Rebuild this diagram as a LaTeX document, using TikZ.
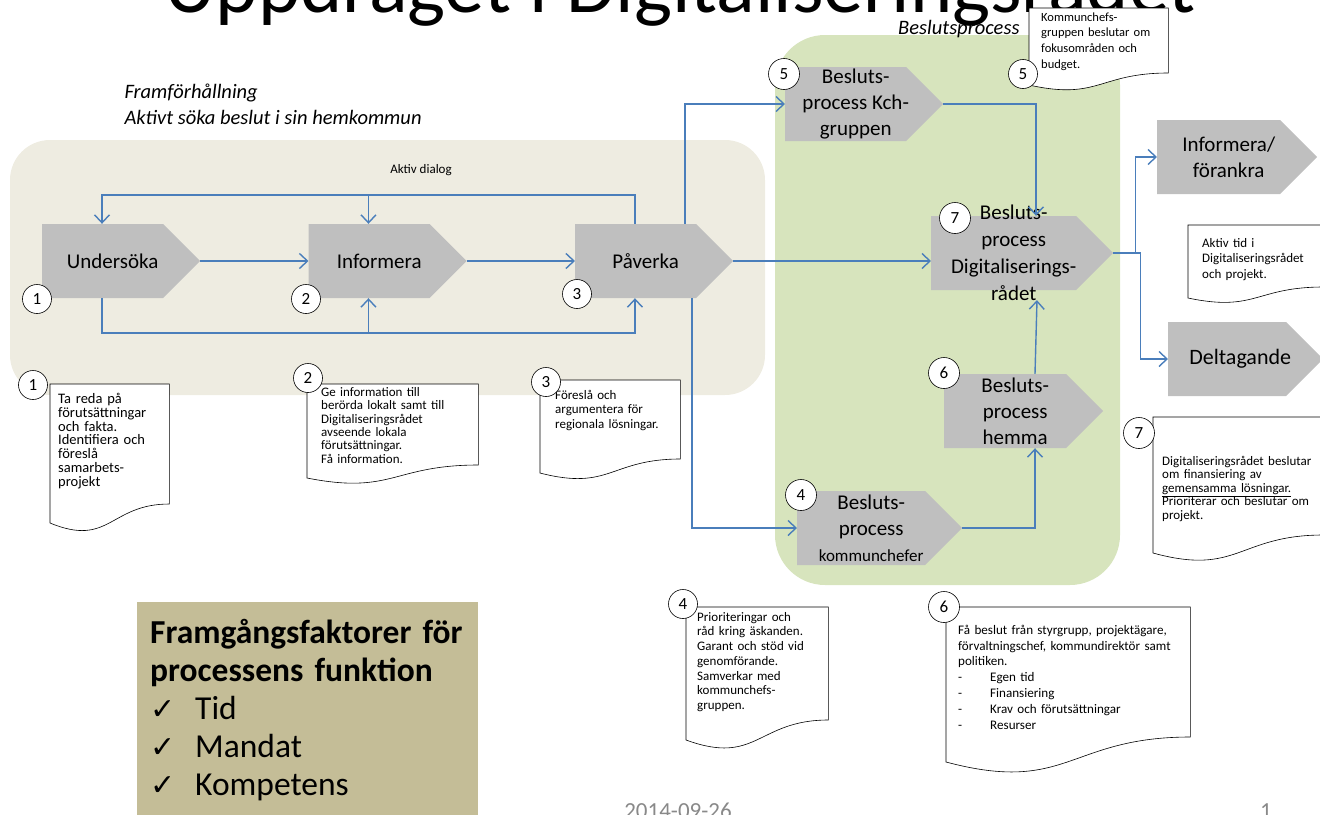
\documentclass[tikz,border=0pt]{standalone}
\usepackage{fontspec}
\setmainfont{Carlito}
\newfontfamily\symfont{DejaVu Sans}
\usetikzlibrary{shapes.symbols, arrows.meta, positioning, calc, backgrounds}
\definecolor{beige}{RGB}{238,236,225}
\definecolor{lightgreen}{RGB}{215,228,189}
\definecolor{chevgray}{RGB}{191,191,191}
\definecolor{arrowblue}{RGB}{74,126,187}
\definecolor{tanbox}{RGB}{196,189,151}
\definecolor{footgray}{RGB}{137,137,137}
\tikzset{
chev/.style = {signal, signal to=east, signal pointer angle=90, fill=chevgray, minimum width=158pt, minimum height=74pt, inner sep=0pt},
chevtext/.style = {align=center, xshift=10pt, font=\fontsize{21}{26}\selectfont},
numc/.style = {circle, draw=black, fill=white, line width=0.6pt, minimum size=29pt, inner sep=0pt, font=\fontsize{17}{17}\selectfont},
note/.style = {anchor=north west, align=left, text height=10pt, font=\fontsize{13}{14.5}\selectfont},
docline/.style = {draw=black, fill=white, line width=0.6pt},
flow/.style = {draw=arrowblue, line width=1.4pt, -{Straight Barb[length=8pt,width=15pt]}}
}
% document shape with wavy bottom: node, height, dip
\newcommand{\docshape}[3]{%
  \begin{pgfonlayer}{background}
  \draw[docline] (#1.north west) -- (#1.north east) -- ($(#1.north east)+(0,#2)$)
    .. controls ($(#1.north)+(0,#2)$) and ($(#1.north)+(0,{#2+2.3*#3})$) .. ($(#1.north west)+(0,{#2+#3})$) -- cycle;
  \end{pgfonlayer}}

\begin{document}
\begin{tikzpicture}[x=1pt, y=-1pt]
\useasboundingbox (0,0) rectangle (1320,814);

\begin{scope}[on background layer]
\fill[beige, rounded corners=40pt] (10,140) rectangle (765,395);
\fill[lightgreen, rounded corners=50pt] (775,35) rectangle (1120,585);
\node (title) [anchor=base, font=\fontsize{80.5}{80.5}\selectfont] at (680,12) {Uppdraget i Digitaliseringsrådet};
\end{scope}

\node (plan) [anchor=north west, align=left, font=\fontsize{20.5}{26}\selectfont\itshape] at (121,80) {Framförhållning\\Aktivt söka beslut i sin hemkommun};
\node (beslut) [anchor=east, font=\fontsize{20.5}{20.5}\selectfont\itshape] at (1023,29) {Beslutsprocess};

% vänster flöde
\node (und) [chev, anchor=west, label={[chevtext]center:Undersöka}] at (42,261) {};
\node (inf) [chev, right=108pt of und, label={[chevtext]center:Informera}] {};
\node (pav) [chev, right=108pt of inf, label={[chevtext]center:Påverka}] {};

\node (c1) [numc] at (37,299) {1};
\node (c2) [numc] at (306,299) {2};
\node (c3) [numc] at (577,294) {3};

\node (dialog) [font=\fontsize{13}{13}\selectfont] at (421,170) {Aktiv dialog};

\coordinate (toploop) at (0,195);
\coordinate (botloop) at (0,333);
\foreach \n in {und,inf,pav} {
  \coordinate (\n-t) at ([xshift=60pt]\n.north west);
  \coordinate (\n-b) at ([xshift=60pt]\n.south west);
}

\draw[flow] (und.east) -- (inf.west);
\draw[flow] (inf.east) -- (pav.west);
\draw[flow] (pav-t) -- (pav-t |- toploop) -| (und-t);
\draw[flow] (inf-t |- toploop) -- (inf-t);
\draw[flow] (und-b) -- (und-b |- botloop) -| (pav-b);
\draw[flow] (inf-b |- botloop) -- (inf-b);

% beslutsprocess
\node (kch) [chev, anchor=west, label={[chevtext]center:Besluts-\\process Kch-\\gruppen}] at (785,104) {};
\node (digit) [chev, anchor=west, minimum width=182pt, label={[chevtext, font=\fontsize{21}{27}\selectfont]center:{Besluts-\\process\\Digitaliserings-\\rådet}}] at (931,253) {};
\node (hem) [chev, anchor=west, minimum width=159pt, label={[chevtext]center:Besluts-\\process\\hemma}] at (944,411) {};
\node (kom) [chev, anchor=west, minimum width=165pt, label={[chevtext]center:{Besluts-\\process\\{\fontsize{17}{17}\selectfont kommunchefer}}}] at (797,528) {};
\node (inffor) [chev, anchor=west, minimum width=160pt, label={[chevtext]center:Informera/\\förankra}] at (1157,157) {};
\node (delt) [chev, anchor=west, minimum width=155pt, label={[chevtext, xshift=3pt, font=\fontsize{22}{22}\selectfont]center:Deltagande}] at (1168,359) {};

\node (c5) [numc, minimum size=31pt] at (784,74) {5};
\node (c7) [numc, minimum size=31pt] at (955,218) {7};
\node (c6) [numc, minimum size=31pt] at (944,373) {6};
\node (c4) [numc, minimum size=31pt] at (801,495) {4};

\draw[flow] (pav.east) -- (pav.east -| digit.west);
\draw[flow] ([xshift=110pt]pav.north west) |- (kch.west);
\draw[flow] ([xshift=117pt]pav.south west) |- (kom.west);
\draw[flow] (kch.east) -| ([xshift=105pt]digit.north west);
\draw[flow] (kom.east) -| ([xshift=91pt]hem.south west);
\draw[flow] ([xshift=91pt]hem.north west) -- ([xshift=106pt,yshift=-10pt]digit.south west);
\draw[flow] (digit.east) -- ++(22,0) |- (inffor.west);
\draw[flow] (digit.east) -- ++(27,0) |- (delt.west);

% anteckningar
\node (n1) [note, inner xsep=8pt, inner ysep=9pt, text width=103pt, text depth=92pt, font=\fontsize{14.5}{13.9}\selectfont] at (50,384)
  {Ta reda på\\förutsättningar\\och fakta.\\Identifiera och\\föreslå\\samarbets-\\projekt};
\docshape{n1}{120}{19}
\node (n2) [note, inner xsep=14pt, inner ysep=2pt, text width=143pt, text depth=67pt, font=\fontsize{13}{13.4}\selectfont] at (307,384)
  {Ge information till\\berörda lokalt samt till\\Digitaliseringsrådet\\avseende lokala\\förutsättningar.\\Få information.};
\docshape{n2}{81}{13}
\node (n3) [note, inner xsep=15pt, inner ysep=9pt, text width=110pt, text depth=51pt, font=\fontsize{13}{14.5}\selectfont] at (540,380)
  {Föreslå och\\argumentera för\\regionala lösningar.};
\docshape{n3}{79}{14}
\node (n4) [note, inner xsep=11pt, inner ysep=4pt, text width=120pt, text depth=95pt, font=\fontsize{13}{14.7}\selectfont] at (686,607)
  {Prioriteringar och\\råd kring äskanden.\\Garant och stöd vid\\genomförande.\\Samverkar med\\kommunchefs-\\gruppen.};
\docshape{n4}{113}{20}
\node (n5) [note, inner xsep=12pt, inner ysep=3pt, text width=115pt, text depth=49pt, font=\fontsize{12.5}{15.7}\selectfont] at (1029,8)
  {Kommunchefs-\\gruppen beslutar om\\fokusområden och\\budget.};
\docshape{n5}{65}{12}
\node (n6) [note, inner xsep=12pt, inner ysep=17pt, text width=220pt, text depth=86pt, font=\fontsize{13.1}{15.8}\selectfont] at (946,607)
  {Få beslut från styrgrupp, projektägare,\\förvaltningschef, kommundirektör samt\\politiken.\\\makebox[32pt][l]{-}Egen tid\\\makebox[32pt][l]{-}Finansiering\\\makebox[32pt][l]{-}Krav och förutsättningar\\\makebox[32pt][l]{-}Resurser};
\docshape{n6}{130}{25}
\node (n7) [note, inner xsep=9pt, inner ysep=38pt, text width=152pt, text depth=32pt, font=\fontsize{13}{13.5}\selectfont] at (1153,417)
  {Digitaliseringsrådet beslutar\\om finansiering av\\\underline{gemensamma lösningar.}\\Prioriterar och beslutar om\\projekt.};
\docshape{n7}{118}{18}
\node (n8) [note, inner xsep=14pt, inner ysep=12pt, text width=107pt, text depth=28pt, font=\fontsize{13}{15.7}\selectfont] at (1188,225)
  {Aktiv tid i\\Digitaliseringsrådet\\och projekt.};
\docshape{n8}{62}{11}

\node (m1) [numc] at (33,385) {1};
\node (m2) [numc] at (308,378) {2};
\node (m3) [numc] at (546,382) {3};
\node (m4) [numc] at (683,604) {4};
\node (m5) [numc] at (1023,74) {5};
\node (m6) [numc, minimum size=31pt] at (944,607) {6};
\node (m7) [numc, minimum size=31pt] at (1139,433) {7};

% framgångsfaktorer
\node (factors) [anchor=north west, fill=tanbox, inner xsep=13pt, inner ysep=13pt, text width=315pt, text height=28pt, text depth=220pt, align=left, font=\fontsize{33.5}{38}\selectfont] at (137,602)
  {\textbf{Framgångsfaktorer för}\\\textbf{processens funktion}\\\makebox[45pt][l]{\symfont\fontsize{30}{30}\selectfont ✓}Tid\\\makebox[45pt][l]{\symfont\fontsize{30}{30}\selectfont ✓}Mandat\\\makebox[45pt][l]{\symfont\fontsize{30}{30}\selectfont ✓}Kompetens};

\node (date) [anchor=base, text=footgray, font=\fontsize{23}{23}\selectfont] at (678,818) {2014-09-26};
\node (page) [anchor=base, text=footgray, font=\fontsize{23}{23}\selectfont] at (1266,818) {1};
\end{tikzpicture}
\end{document}
